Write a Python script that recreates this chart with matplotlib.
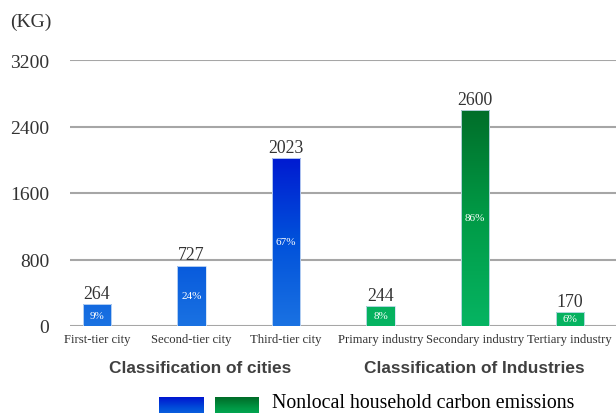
import numpy as np
import matplotlib
matplotlib.use("Agg")
import matplotlib.pyplot as plt
from matplotlib.colors import LinearSegmentedColormap

categories = ["First-tier city", "Second-tier city", "Third-tier city",
              "Primary industry", "Secondary industry", "Tertiary industry"]
values = [264, 727, 2023, 244, 2600, 170]
shares = ["9%", "24%", "67%", "8%", "86%", "6%"]
groups = ["city", "city", "city", "industry", "industry", "industry"]
group_titles = ["Classification of cities", "Classification of Industries"]
yticks = [0, 800, 1600, 2400, 3200]
legend_label = "Nonlocal household carbon emissions"

blue_cmap = LinearSegmentedColormap.from_list("blue", ["#1a72e2", "#0050da", "#0016d0"])
green_cmap = LinearSegmentedColormap.from_list("green", ["#06b462", "#009a46", "#006c28"])
cmaps = {"city": blue_cmap, "industry": green_cmap}
tops = {"city": 2100, "industry": 2650}

serif = ["Liberation Serif", "DejaVu Serif"]
sans = ["Liberation Sans", "DejaVu Sans"]

fig = plt.figure(figsize=(6.16, 4.14), dpi=100)
ax = fig.add_axes([70 / 616, 1 - 327 / 414, 1 - 70 / 616, 266 / 414])

x = np.arange(len(categories))
width = 0.30
grad = np.linspace(0, 1, 256).reshape(-1, 1)

for xi, v, s, g in zip(x, values, shares, groups):
    bar = ax.bar(xi, v, width=width, color="none", edgecolor="#cfe0f5", linewidth=0.6, zorder=3)[0]
    frac = v / tops[g]
    img = ax.imshow(grad * frac, extent=[xi - width / 2, xi + width / 2, 0, v], origin="lower",
                    cmap=cmaps[g], vmin=0, vmax=1, aspect="auto", zorder=2)
    img.set_clip_path(bar)
    ax.text(xi, v + 25, str(v), ha="center", va="bottom", fontsize=12.8, family=serif, color="#333333", zorder=4)
    ax.text(xi, v / 2, s, ha="center", va="center", fontsize=8, family=serif, color="white", zorder=4)

ax.set_xlim(-0.286, 5.49)
ax.set_ylim(0, 3200)
ax.set_yticks(yticks)
ax.set_xticks(x)
ax.set_xticklabels(categories, fontsize=9.1, family=serif, color="#333333")
ax.set_yticklabels([str(t) for t in yticks], fontsize=14, family=serif, color="#333333")
ax.tick_params(axis="both", length=0)
ax.tick_params(axis="y", pad=15)
ax.tick_params(axis="x", pad=5)
for sp in ax.spines.values():
    sp.set_visible(False)
ax.yaxis.grid(True, color="#a6a6a6", linewidth=1.5, zorder=0)
ax.set_axisbelow(True)

fig.text(10 / 616, 1 - 22 / 414, "(KG)", fontsize=14, family=serif, color="#333333", va="center")
fig.text(200 / 616, 1 - 369 / 414, group_titles[0], fontsize=12.4, family=sans, weight="bold",
         color="#404040", ha="center", va="center")
fig.text(474 / 616, 1 - 369 / 414, group_titles[1], fontsize=12.4, family=sans, weight="bold",
         color="#404040", ha="center", va="center")

# legend swatches
for left, cm in [(159, blue_cmap), (215, green_cmap)]:
    lax = fig.add_axes([left / 616, 0, 44 / 616, 16 / 414])
    lax.imshow(np.linspace(0.3, 1, 64).reshape(-1, 1), cmap=cm, aspect="auto", origin="lower",
               vmin=0, vmax=1, extent=[0, 1, 0, 1])
    lax.axis("off")
fig.text(272 / 616, 1 - 404 / 414, legend_label, fontsize=14.3, family=serif, color="black", va="center")

fig.savefig("out.png", dpi=100)
